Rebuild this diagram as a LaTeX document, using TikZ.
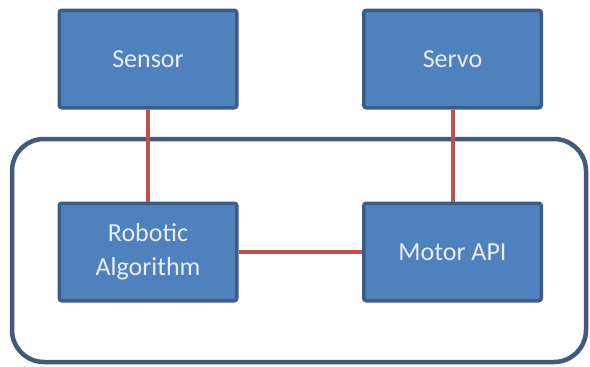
\documentclass[tikz,border=0pt]{standalone}
\usepackage{fontspec}
\setmainfont{Carlito}
\definecolor{boxfill}{HTML}{4F81BD}
\definecolor{boxline}{HTML}{385D8A}
\definecolor{frameline}{HTML}{41597C}
\definecolor{link}{HTML}{C0504D}
\definecolor{txt}{HTML}{E6EEF8}
\begin{document}
\begin{tikzpicture}[x=1pt,y=-1pt,
  blockbox/.style={draw=boxline, line width=3.5pt, fill=boxfill, rounded corners=2.5pt,
    minimum width=177.5pt, minimum height=97.5pt, inner sep=0pt, align=center,
    text=txt, font=\fontsize{26}{34}\selectfont},
  linkline/.style={draw=link, line width=4pt}]
\useasboundingbox (0,0) rectangle (590,367);
\draw[frameline, line width=4.5pt, rounded corners=32pt] (12,139) rectangle (586,362);
\node[blockbox] (sensor) at (148,59) {Sensor};
\node[blockbox] (servo) at (452.5,59) {Servo};
\node[blockbox] (robot) at (148,252) {Robotic\\Algorithm};
\node[blockbox] (motor) at (452.5,252) {Motor API};
\draw[linkline] (sensor) -- (robot);
\draw[linkline] (servo) -- (motor);
\draw[linkline] (robot) -- (motor);
\end{tikzpicture}
\end{document}
